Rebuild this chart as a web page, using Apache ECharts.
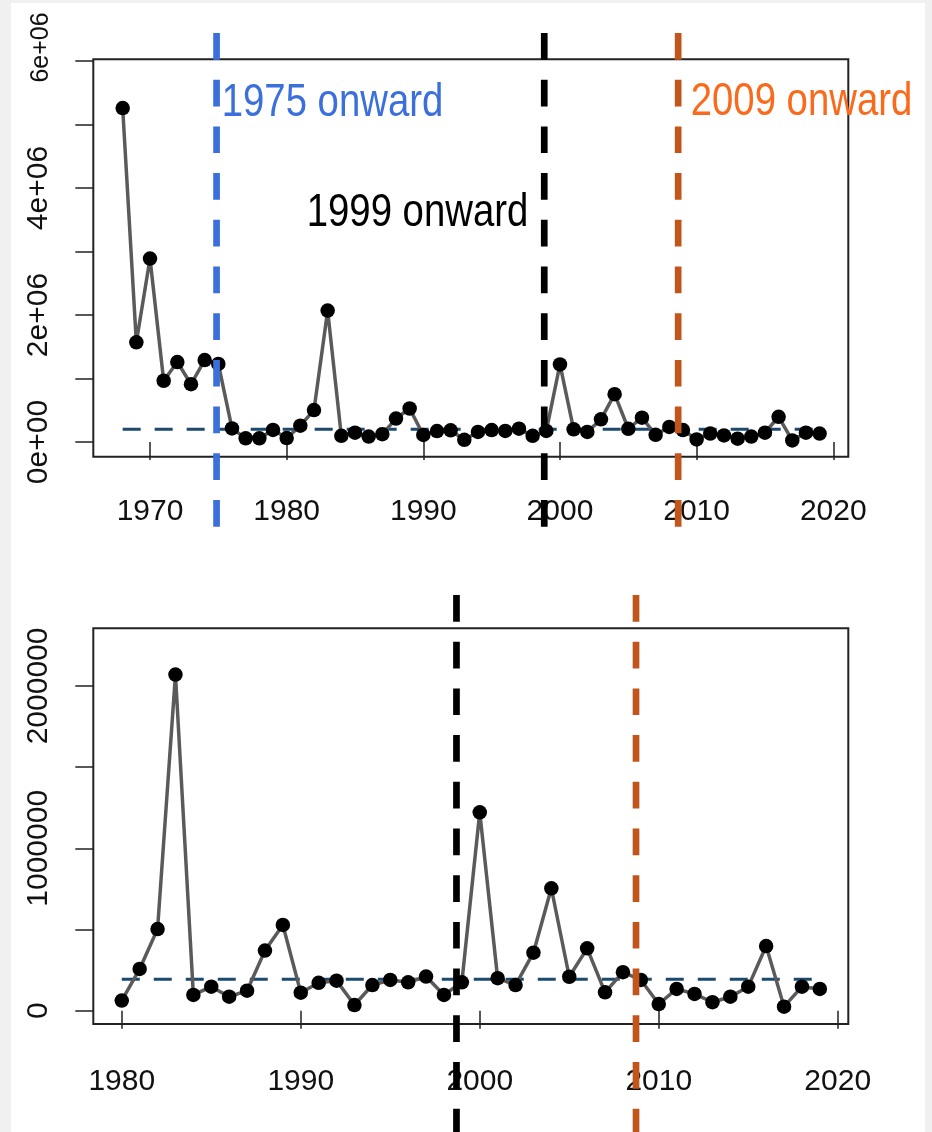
<!DOCTYPE html>
<html><head><meta charset="utf-8">
<script src="https://cdn.jsdelivr.net/npm/echarts@6/dist/echarts.min.js"></script>
<style>
html,body{margin:0;padding:0;background:#f0f0f0;overflow:hidden;}
#panel{position:absolute;left:11px;top:3px;width:914px;height:1129px;background:#fff;}
#chart{position:absolute;left:0;top:0;width:932px;height:1132px;}
</style></head><body>
<div id="panel"></div><div id="chart"></div>
<script>
// ---- data ----
const years = [1968,1969,1970,1971,1972,1973,1974,1975,1976,1977,1978,1979,
  1980,1981,1982,1983,1984,1985,1986,1987,1988,1989,
  1990,1991,1992,1993,1994,1995,1996,1997,1998,1999,
  2000,2001,2002,2003,2004,2005,2006,2007,2008,2009,
  2010,2011,2012,2013,2014,2015,2016,2017,2018,2019];
const values = [5260000,1570000,2890000,965000,1260000,910000,1290000,1230000,215000,58000,58000,190000,
  62000,257000,503000,2070000,97000,148000,86000,123000,370000,528000,
  111000,172000,185000,35000,158000,189000,175000,210000,97000,175000,
  1222000,200000,158000,357000,754000,209000,384000,113000,237000,189000,
  41000,134000,103000,52000,86000,148000,398000,25000,148000,134000];
const topMean = 203000;
const bottomMean = 193000;
const bottomStartYear = 1980;
const topBreaks = [1974.87, 1998.85, 2008.65];
const bottomBreaks = [1998.7, 2008.73];
const breakLabels = ['1975 onward', '1999 onward', '2009 onward'];
const topXTicks = [1970, 1980, 1990, 2000, 2010, 2020];
const bottomXTicks = [1980, 1990, 2000, 2010, 2020];
const topYTicks = [0, 1000000, 2000000, 3000000, 4000000, 5000000, 6000000];
const topYLabels = [0, 2000000, 4000000, 6000000];
const bottomYTicks = [0, 500000, 1000000, 1500000, 2000000];
const bottomYLabels = [0, 1000000, 2000000];

// ---- styles ----
const FONT = '"Liberation Sans", Arial, sans-serif';
const BLUE = '#3b6fdb', BLACK = '#000000', ORANGE_LINE = '#c0561b', ORANGE_TEXT = '#fa6a1c';
const topBreakColors = [BLUE, BLACK, ORANGE_LINE];
const bottomBreakColors = [BLACK, ORANGE_LINE];

const topPairs = years.map((y, i) => [y, values[i]]);
const bottomPairs = topPairs.filter(p => p[0] >= bottomStartYear);

function sciLabel(v) {
  if (v === 0) return '0e+00';
  const e = Math.floor(Math.log10(v));
  const m = v / Math.pow(10, e);
  return m + 'e+' + String(e).padStart(2, '0');
}

const tick = {show: true, length: 18, lineStyle: {color: '#222', width: 1.5}};
function xAxisMain(grid, min, max, ticks, margin) {
  return {type: 'value', gridIndex: grid, min: min, max: max,
    axisLine: {show: false}, splitLine: {show: false},
    axisTick: Object.assign({customValues: ticks}, tick),
    axisLabel: {customValues: ticks, margin: margin, fontSize: 30, color: '#111', fontFamily: FONT,
      formatter: v => String(v)}};
}
function yAxisMain(grid, min, max, ticks, labels, fmt, rich) {
  return {type: 'value', gridIndex: grid, min: min, max: max,
    axisLine: {show: false}, splitLine: {show: false},
    axisTick: Object.assign({customValues: ticks}, tick),
    axisLabel: {customValues: labels, rotate: 90, margin: 40, fontSize: 30, color: '#111',
      fontFamily: FONT, formatter: fmt, rich: rich}};
}
function hiddenX(grid, min, max) { return {type: 'value', gridIndex: grid, min: min, max: max, show: false}; }
function hiddenY(grid) { return {type: 'value', gridIndex: grid, min: 0, max: 1, show: false}; }

const dataLine = {color: '#5a5a5a', width: 3.5};
const series = [];
series.push({type: 'line', xAxisIndex: 0, yAxisIndex: 0, z: 1, symbol: 'none', silent: true,
  data: [[years[0], topMean], [years[years.length - 1], topMean]],
  lineStyle: {color: '#1b4a6e', width: 3, type: [18, 14]}});
series.push({type: 'line', xAxisIndex: 0, yAxisIndex: 0, z: 2, data: topPairs,
  symbol: 'circle', symbolSize: 14.5, itemStyle: {color: '#000'}, lineStyle: dataLine});
series.push({type: 'line', xAxisIndex: 1, yAxisIndex: 1, z: 1, symbol: 'none', silent: true,
  data: [[bottomStartYear, bottomMean], [years[years.length - 1], bottomMean]],
  lineStyle: {color: '#1b4a6e', width: 3, type: [18, 14]}});
series.push({type: 'line', xAxisIndex: 1, yAxisIndex: 1, z: 2, data: bottomPairs,
  symbol: 'circle', symbolSize: 14.5, itemStyle: {color: '#000'}, lineStyle: dataLine});
topBreaks.forEach((b, i) => series.push({type: 'line', xAxisIndex: 2, yAxisIndex: 2, z: 5,
  symbol: 'none', silent: true, data: [[b, 1], [b, 0]],
  lineStyle: {color: topBreakColors[i], width: 6.7, type: [26.7, 20], cap: 'butt'}}));
bottomBreaks.forEach((b, i) => series.push({type: 'line', xAxisIndex: 3, yAxisIndex: 3, z: 5,
  symbol: 'none', silent: true, data: [[b, 1], [b, 0]],
  lineStyle: {color: bottomBreakColors[i], width: 6.7, type: [26.7, 20], cap: 'butt'}}));

const TX = [1965.85, 2021.1], BX = [1978.41, 2020.59];
const option = {
  animation: false,
  backgroundColor: 'transparent',
  grid: [
    {left: 93.3, top: 59.3, width: 755, height: 397.4, show: true, borderColor: '#222', borderWidth: 2, backgroundColor: '#fff'},
    {left: 93.3, top: 628.3, width: 755, height: 395.7, show: true, borderColor: '#222', borderWidth: 2, backgroundColor: '#fff'},
    {left: 93.3, top: 33, width: 755, height: 497},
    {left: 93.3, top: 595, width: 755, height: 537}
  ],
  xAxis: [
    xAxisMain(0, TX[0], TX[1], topXTicks, 40),
    xAxisMain(1, BX[0], BX[1], bottomXTicks, 43),
    hiddenX(2, TX[0], TX[1]),
    hiddenX(3, BX[0], BX[1])
  ],
  yAxis: [
    yAxisMain(0, -231000, 6027000, topYTicks, topYLabels,
      v => v === 6000000 ? '{s|' + sciLabel(v) + '}' : sciLabel(v),
      {s: {fontSize: 25, fontFamily: FONT, color: '#111', padding: [0, 0, 0, 27]}}),
    yAxisMain(1, -82000, 2355000, bottomYTicks, bottomYLabels, v => String(v)),
    hiddenY(2), hiddenY(3)
  ],
  series: series,
  graphic: [
    {type: 'text', x: 221.7, y: 103, scaleX: 0.833, z: 10,
      style: {text: breakLabels[0], fill: BLUE, font: '46px ' + FONT, textAlign: 'left', textVerticalAlign: 'middle'}},
    {type: 'text', x: 306.7, y: 213, scaleX: 0.833, z: 10,
      style: {text: breakLabels[1], fill: BLACK, font: '46px ' + FONT, textAlign: 'left', textVerticalAlign: 'middle'}},
    {type: 'text', x: 690.7, y: 102, scaleX: 0.833, z: 10,
      style: {text: breakLabels[2], fill: ORANGE_TEXT, font: '46px ' + FONT, textAlign: 'left', textVerticalAlign: 'middle'}}
  ]
};
const chart = echarts.init(document.getElementById('chart'), null, {renderer: 'canvas'});
chart.setOption(option);
</script>
</body></html>
